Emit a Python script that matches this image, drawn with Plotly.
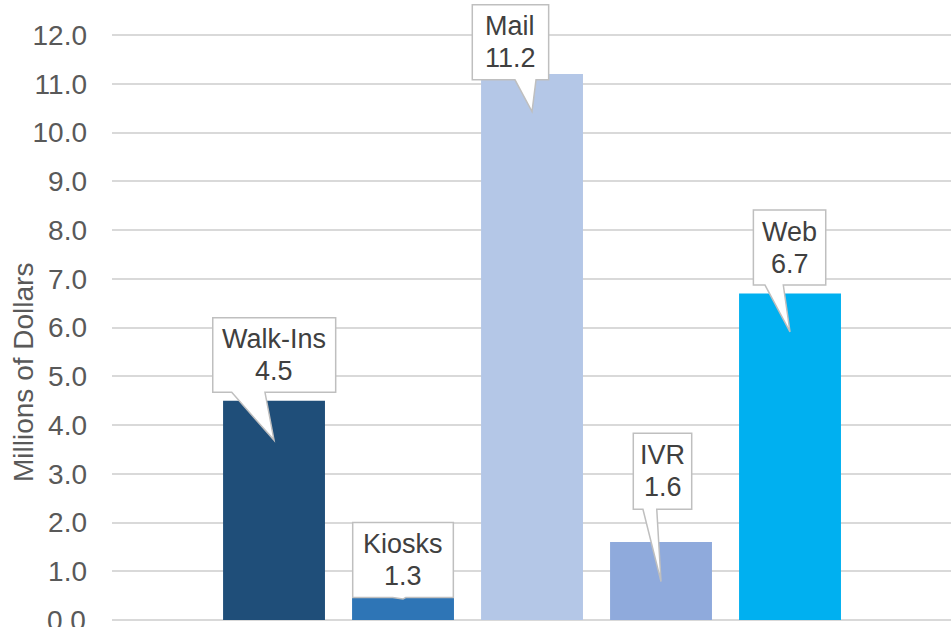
import plotly.graph_objects as go

# Revenue by payment channel (millions of dollars)
channels = ["Walk-Ins", "Kiosks", "Mail", "IVR", "Web"]
values = [4.5, 1.3, 11.2, 1.6, 6.7]
bar_colors = ["#1F4E79", "#2E75B6", "#B4C7E7", "#8FAADC", "#00B0F0"]
y_ticks = [0, 1, 2, 3, 4, 5, 6, 7, 8, 9, 10, 11, 12]

# Callout geometry per channel, relative to the bar centre (x in category units,
# y in axis units): box left/right offset, box height, box bottom offset from the
# bar top; pointer base left/right offset and how far the tip sits below the bar top.
callout_box = [
    (-0.475, 0.478, 1.53, 0.17),
    (-0.39, 0.39, 1.54, -0.84),
    (-0.463, 0.129, 1.54, -0.12),
    (-0.215, 0.238, 1.56, 0.67),
    (-0.284, 0.277, 1.54, 0.17),
]
callout_pointer = [
    (-0.328, -0.07, 0.81),
    (-0.08, 0.02, 0.87),
    (-0.132, 0.031, 0.77),
    (-0.14, -0.033, 0.81),
    (-0.194, -0.052, 0.79),
]

PX_PER_UNIT = 48.75
PLOT_W = 839
LABEL_GAP = 24
FONT = "Liberation Sans"
TICK_FONT = dict(family=FONT, size=28, color="#595959")

fig = go.Figure()
fig.add_trace(go.Bar(
    x=list(range(len(channels))),
    y=values,
    marker=dict(color=bar_colors, line=dict(width=0)),
    width=0.79,
    hoverinfo="skip",
    showlegend=False,
))

shapes = []
annotations = []
for i, (name, v) in enumerate(zip(channels, values)):
    bl, br, bh, boff = callout_box[i]
    pl, pr, tip_drop = callout_pointer[i]
    bottom = v + boff
    top = bottom + bh
    tip_y = v - tip_drop
    path = (
        f"M {i+bl},{bottom} L {i+bl},{top} L {i+br},{top} L {i+br},{bottom} "
        f"L {i+pr},{bottom} L {i},{tip_y} L {i+pl},{bottom} Z"
    )
    shapes.append(dict(
        type="path", path=path, xref="x", yref="y",
        fillcolor="white", line=dict(color="#BFBFBF", width=1.5), layer="above",
    ))
    cx = i + (bl + br) / 2
    cy = (top + bottom) / 2
    dy = 16 / PX_PER_UNIT
    annotations.append(dict(
        x=cx, y=cy + dy, xref="x", yref="y", text=name, showarrow=False,
        font=dict(family=FONT, size=27, color="#404040"),
        xanchor="center", yanchor="middle",
    ))
    annotations.append(dict(
        x=cx, y=cy - dy, xref="x", yref="y", text=f"{v:.1f}", showarrow=False,
        font=dict(family=FONT, size=27, color="#404040"),
        xanchor="center", yanchor="middle",
    ))

# The baseline label runs off the bottom of the page, where the axis drops it,
# so it is placed as a text item aligned with the other tick labels.
annotations.append(dict(
    x=-LABEL_GAP / PLOT_W, y=y_ticks[0], xref="paper", yref="y",
    text=f"{y_ticks[0]:.1f}", showarrow=False, font=TICK_FONT,
    xanchor="right", yanchor="middle",
))

annotations.append(dict(
    x=-89 / PLOT_W, y=(620 - 373) / 620, xref="paper", yref="paper",
    text="Millions of Dollars", textangle=-90, showarrow=False,
    font=dict(family=FONT, size=28, color="#595959"),
    xanchor="center", yanchor="middle",
))

fig.update_layout(
    width=951, height=627,
    margin=dict(l=112, r=0, t=0, b=7),
    paper_bgcolor="white", plot_bgcolor="white",
    shapes=shapes, annotations=annotations,
    xaxis=dict(
        range=[-1.256, 5.248], showticklabels=False, showgrid=False,
        zeroline=False, showline=False, ticks="",
    ),
    yaxis=dict(
        range=[0, 12 + 35 / PX_PER_UNIT],
        tickvals=y_ticks, tickformat=".1f",
        showgrid=True, gridcolor="#D9D9D9", gridwidth=1.5,
        zeroline=True, zerolinecolor="#D9D9D9", zerolinewidth=1.5,
        showline=False, ticks="", ticklabelstandoff=LABEL_GAP,
        tickfont=TICK_FONT,
    ),
)

fig.write_html("out.html")
